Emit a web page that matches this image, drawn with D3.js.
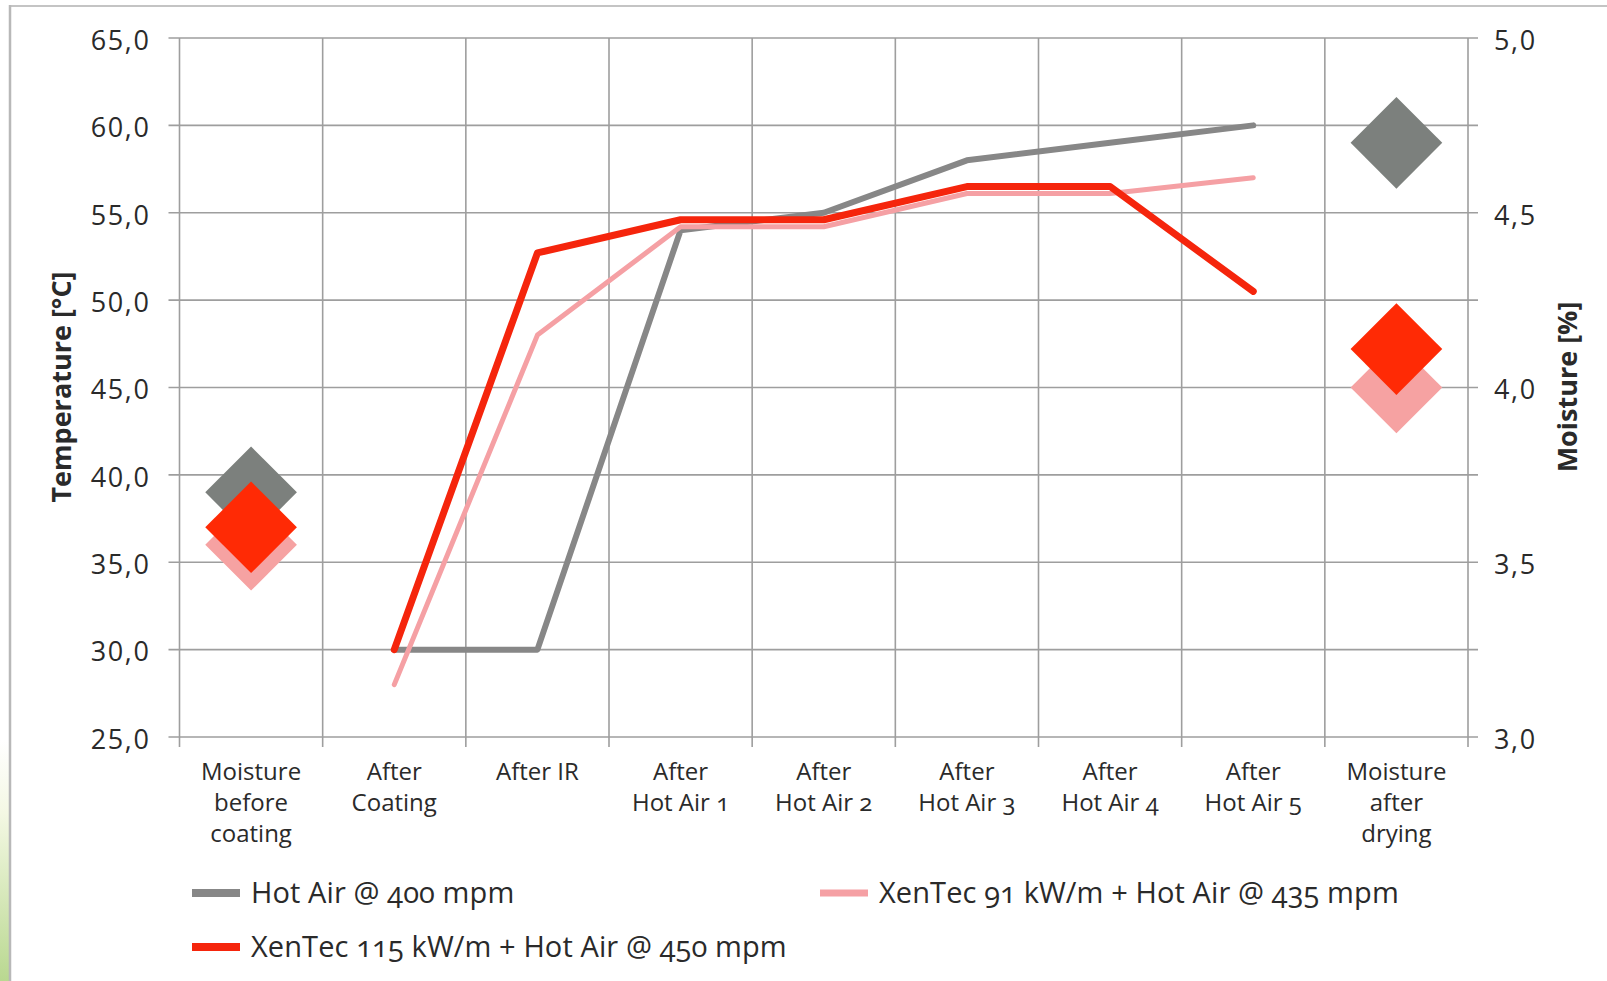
<!DOCTYPE html>
<html>
<head>
<meta charset="utf-8">
<script src="https://cdn.jsdelivr.net/npm/d3@7"></script>
<style>
  html, body { margin: 0; padding: 0; background: #fff; }
  svg { display: block; }
  text { font-family: "Open Sans", "Noto Sans", sans-serif; fill: #2a2a2a; }
  .onum { font-variant-numeric: oldstyle-nums; }
</style>
</head>
<body>
<svg id="chart" width="1607" height="981"></svg>
<script>
// Process stages along the line
const categories = [
  "Moisture\nbefore\ncoating", "After\nCoating", "After IR",
  "After\nHot Air 1", "After\nHot Air 2", "After\nHot Air 3",
  "After\nHot Air 4", "After\nHot Air 5", "Moisture\nafter\ndrying"
];
// Temperature readings (°C) for the seven in-line stages
const tempStages = categories.slice(1, 8);
const hotAir400 = [30.0, 30.0, 54.0, 55.0, 58.0, 59.0, 60.0];
const xentec91  = [28.0, 48.0, 54.2, 54.2, 56.1, 56.1, 57.0];
const xentec115 = [30.0, 52.7, 54.6, 54.6, 56.5, 56.5, 50.5];
// Moisture (%) before coating and after drying, per series
const moistureBefore = [3.70, 3.55, 3.60];
const moistureAfter  = [4.70, 4.00, 4.11];
// Axis ticks
const tempTicks = [25, 30, 35, 40, 45, 50, 55, 60, 65];
const moistTicks = [3.0, 3.5, 4.0, 4.5, 5.0];
// Series definitions
const seriesNames = ["Hot Air @ 400 mpm", "XenTec 91 kW/m + Hot Air @ 435 mpm", "XenTec 115 kW/m + Hot Air @ 450 mpm"];
const lineColors = ["#878787", "#f5a0a4", "#f5250c"];
const markColors = ["#7c807d", "#f6a2a2", "#ff2a05"];
const lineWidths = [6, 5, 7];

const svg = d3.select("#chart");
const X0 = 179.5, X1 = 1468, Y0 = 38, Y1 = 737;

// Frame: top and left rule, green fade at the lower left
const defs = svg.append("defs");
const grad = defs.append("linearGradient").attr("id", "fade").attr("x1", 0).attr("y1", 0).attr("x2", 0).attr("y2", 1);
grad.append("stop").attr("offset", "0%").attr("stop-color", "#ffffff");
grad.append("stop").attr("offset", "30%").attr("stop-color", "#f4f8e4");
grad.append("stop").attr("offset", "100%").attr("stop-color", "#b9d890");
svg.append("rect").attr("x", 0).attr("y", 740).attr("width", 9).attr("height", 241).attr("fill", "url(#fade)");
svg.append("line").attr("x1", 9).attr("x2", 1607).attr("y1", 6).attr("y2", 6).attr("stroke", "#c4c4c4").attr("stroke-width", 2);
svg.append("line").attr("x1", 10).attr("x2", 10).attr("y1", 5).attr("y2", 981).attr("stroke", "#b8b8b8").attr("stroke-width", 2.5);

const x = d3.scaleBand().domain(categories).range([X0, X1]).padding(0);
const y = d3.scaleLinear().domain([25, 65]).range([Y1, Y0]);
const yR = d3.scaleLinear().domain([3, 5]).range([Y1, Y0]);
const cx = d => x(d) + x.bandwidth() / 2;

// Grid
const grid = svg.append("g").attr("stroke", "#9e9e9e").attr("stroke-width", 1.6);
grid.selectAll("line.h").data(tempTicks).join("line").attr("class", "h")
  .attr("x1", X0 - 11).attr("x2", X1 + 10).attr("y1", d => y(d)).attr("y2", d => y(d));
const bounds = categories.map(c => x(c)).concat([X1]);
grid.selectAll("line.v").data(bounds).join("line").attr("class", "v")
  .attr("x1", d => d).attr("x2", d => d).attr("y1", Y0).attr("y2", Y1 + 10);

const fmt = d => d.toFixed(1).replace(".", ",");

// Left temperature axis
const axL = svg.append("g").attr("transform", `translate(${X0},0)`)
  .call(d3.axisLeft(y).tickValues(tempTicks).tickSize(11).tickPadding(18).tickFormat(fmt));
axL.select(".domain").remove();
axL.selectAll(".tick line").remove();
axL.selectAll(".tick text").attr("font-size", 27).attr("dy", "0.42em").style("letter-spacing", "1.6px")
  .style("font-family", "'Open Sans', sans-serif").attr("fill", "#333");

// Right moisture axis
const axR = svg.append("g").attr("transform", `translate(${X1},0)`)
  .call(d3.axisRight(yR).tickValues(moistTicks).tickSize(10).tickPadding(16).tickFormat(fmt));
axR.select(".domain").remove();
axR.selectAll(".tick line").remove();
axR.selectAll(".tick text").attr("font-size", 27).attr("dy", "0.42em").style("letter-spacing", "1.6px")
  .style("font-family", "'Open Sans', sans-serif").attr("fill", "#333");

// Category labels
const catG = svg.append("g");
categories.forEach(c => {
  const t = catG.append("text").attr("class", "onum").attr("x", cx(c)).attr("y", 780)
    .attr("text-anchor", "middle").attr("font-size", 24).attr("fill", "#333");
  c.split("\n").forEach((ln, i) => {
    t.append("tspan").attr("x", cx(c)).attr("dy", i === 0 ? 0 : 31).text(ln);
  });
});

// Axis titles
svg.append("text").attr("transform", `translate(71,387) rotate(-90)`).attr("text-anchor", "middle")
  .attr("font-size", 27).attr("font-weight", 700).text("Temperature [°C]");
svg.append("text").attr("transform", `translate(1577,387) rotate(-90)`).attr("text-anchor", "middle")
  .attr("font-size", 27).attr("font-weight", 700).text("Moisture [%]");

// Temperature lines
const line = d3.line().x((d, i) => cx(tempStages[i])).y(d => y(d));
[hotAir400, xentec91, xentec115].forEach((vals, k) => {
  svg.append("path").datum(vals).attr("d", line).attr("fill", "none")
    .attr("stroke", lineColors[k]).attr("stroke-width", lineWidths[k])
    .attr("stroke-linejoin", "round").attr("stroke-linecap", "round");
});

// Moisture diamonds
const diamond = d3.symbol().type(d3.symbolSquare).size(4200);
const drawOrder = [0, 1, 2];
[[categories[0], moistureBefore], [categories[8], moistureAfter]].forEach(([cat, vals]) => {
  drawOrder.forEach(k => {
    svg.append("path").attr("d", diamond())
      .attr("transform", `translate(${cx(cat)},${yR(vals[k])}) rotate(45)`)
      .attr("fill", markColors[k]);
  });
});

// Legend
const legend = [
  { name: seriesNames[0], k: 0, lx: 192, ly: 893 },
  { name: seriesNames[1], k: 1, lx: 820, ly: 893 },
  { name: seriesNames[2], k: 2, lx: 192, ly: 947 }
];
legend.forEach(d => {
  svg.append("line").attr("x1", d.lx).attr("x2", d.lx + 48).attr("y1", d.ly).attr("y2", d.ly)
    .attr("stroke", lineColors[d.k]).attr("stroke-width", d.k === 1 ? 7 : 8);
  svg.append("text").attr("class", "onum").attr("x", d.lx + 59).attr("y", d.ly).attr("dy", "0.36em")
    .attr("font-size", 29).style("letter-spacing", "0.1px").attr("fill", "#2a2a2a").text(d.name);
});
</script>
</body>
</html>
